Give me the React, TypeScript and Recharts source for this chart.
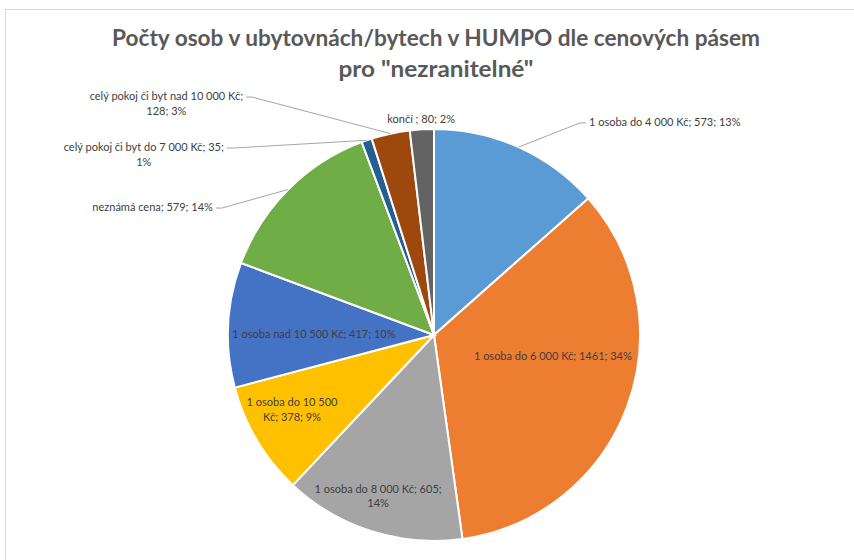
import React, { useLayoutEffect, useRef, useState } from 'react';
import { PieChart, Pie, Cell } from 'recharts';

const categories = [
  '1 osoba do 4 000 Kč',
  '1 osoba do 6 000 Kč',
  '1 osoba do 8 000 Kč',
  '1 osoba do 10 500 Kč',
  '1 osoba nad 10 500 Kč',
  'neznámá cena',
  'celý pokoj či byt do 7 000 Kč',
  'celý pokoj či byt nad 10 000 Kč',
  'končí ',
];
const values = [573, 1461, 605, 378, 417, 579, 35, 128, 80];
const colors = ['#5B9BD5', '#ED7D31', '#A5A5A5', '#FFC000', '#4472C4', '#70AD47', '#255E91', '#9E480E', '#636363'];
const titleLines = ['Počty osob v ubytovnách/bytech v HUMPO dle cenových pásem', 'pro "nezranitelné"'];

const data = categories.map((name, i) => ({ name, value: values[i] }));
const total = values.reduce((a, b) => a + b, 0);

// label layout (style only): polar placement relative to the pie, and word index for wrapping
const labelLayout = [
  { mode: 'out', angle: 55.45, r: 1.25, side: 'right', split: 0 },
  { mode: 'in', angle: -10, r: 0.586, split: 0 },
  { mode: 'in', angle: -109.2, r: 0.825, split: 7 },
  { mode: 'in', angle: -152.5, r: 0.777, split: 5 },
  { mode: 'in', angle: 179.5, r: 0.583, split: 0 },
  { mode: 'out', angle: 149.1, r: 1.2, side: 'left', split: 0 },
  { mode: 'out', angle: 137.1, r: 1.333, side: 'left', split: 9 },
  { mode: 'out', angle: 127.4, r: 1.454, side: 'left', split: 8 },
  { mode: 'in', angle: 93.4, r: 1.055, split: 0 },
];

const FONT = 'Lato, sans-serif';
const FONT_SIZE = 11;
const LINE_H = 14.5;
const TEXT_COLOR = '#404040';

function LabelBlock({ lines, x, y, anchor }: { lines: string[]; x: number; y: number; anchor: string }) {
  const refs = useRef<(SVGTextElement | null)[]>([]);
  const [w, setW] = useState(0);
  useLayoutEffect(() => {
    let m = 0;
    refs.current.forEach((t) => {
      if (t) m = Math.max(m, t.getComputedTextLength());
    });
    if (Math.abs(m - w) > 0.5) setW(m);
  });
  const bx = anchor === 'middle' ? x : anchor === 'start' ? x + w / 2 : x - w / 2;
  return (
    <g>
      {lines.map((ln, i) => (
        <text
          key={i}
          ref={(el) => {
            refs.current[i] = el;
          }}
          x={bx}
          y={y + i * LINE_H}
          textAnchor="middle"
          dominantBaseline="central"
          fontFamily={FONT}
          fontSize={FONT_SIZE}
          fill={TEXT_COLOR}
        >
          {ln}
        </text>
      ))}
    </g>
  );
}

const RAD = Math.PI / 180;

const renderLabel = (props: any) => {
  const { cx, cy, outerRadius, midAngle, index, value } = props;
  const L = labelLayout[index];
  const pct = Math.round((value / total) * 100);
  const text = `${categories[index]}; ${value}; ${pct}%`;
  const words = text.split(' ');
  const lines = L.split ? [words.slice(0, L.split).join(' '), words.slice(L.split).join(' ')] : [text];
  const px = cx + outerRadius * L.r * Math.cos(L.angle * RAD);
  const py = cy - outerRadius * L.r * Math.sin(L.angle * RAD);
  if (L.mode === 'in') {
    return <LabelBlock lines={lines} x={px} y={py - ((lines.length - 1) * LINE_H) / 2} anchor="middle" />;
  }
  const sx = cx + outerRadius * Math.cos(midAngle * RAD);
  const sy = cy - outerRadius * Math.sin(midAngle * RAD);
  const dir = L.side === 'right' ? 1 : -1;
  const hx = px + dir * 6;
  return (
    <g>
      <polyline points={`${sx},${sy} ${px},${py} ${hx},${py}`} fill="none" stroke="#a6a6a6" strokeWidth={1} />
      <LabelBlock lines={lines} x={hx + dir * 3} y={py - 1.5} anchor={dir > 0 ? 'start' : 'end'} />
    </g>
  );
};

export default function App() {
  return (
    <div style={{ position: 'absolute', left: 0, top: 0, width: 854, height: 560, background: '#fff', overflow: 'hidden' }}>
      <div
        style={{
          position: 'absolute',
          left: 5,
          top: 9,
          width: 860,
          height: 560,
          borderTop: '1px solid #d9d9d9',
          borderLeft: '1px solid #d9d9d9',
        }}
      />
      <div style={{ position: 'absolute', left: 0, top: 0 }}>
        <PieChart width={854} height={560} margin={{ top: 0, right: 0, bottom: 0, left: 0 }}>
          <Pie
            data={data}
            dataKey="value"
            nameKey="name"
            cx={434}
            cy={335}
            outerRadius={206}
            startAngle={90}
            endAngle={-270}
            stroke="#ffffff"
            strokeWidth={2}
            label={renderLabel}
            labelLine={false}
            isAnimationActive={false}
          >
            {data.map((d, i) => (
              <Cell key={d.name} fill={colors[i]} />
            ))}
          </Pie>
        </PieChart>
      </div>
      <svg style={{ position: 'absolute', left: 0, top: 0 }} width={854} height={90}>
        <text x={436} y={37} textAnchor="middle" dominantBaseline="central" fontFamily={FONT} fontWeight="bold" fontSize={22} fill="#595959" textLength={648} lengthAdjust="spacingAndGlyphs">
          {titleLines[0]}
        </text>
        <text x={436} y={68} textAnchor="middle" dominantBaseline="central" fontFamily={FONT} fontWeight="bold" fontSize={22} fill="#595959" textLength={195} lengthAdjust="spacingAndGlyphs">
          {titleLines[1]}
        </text>
      </svg>
    </div>
  );
}
